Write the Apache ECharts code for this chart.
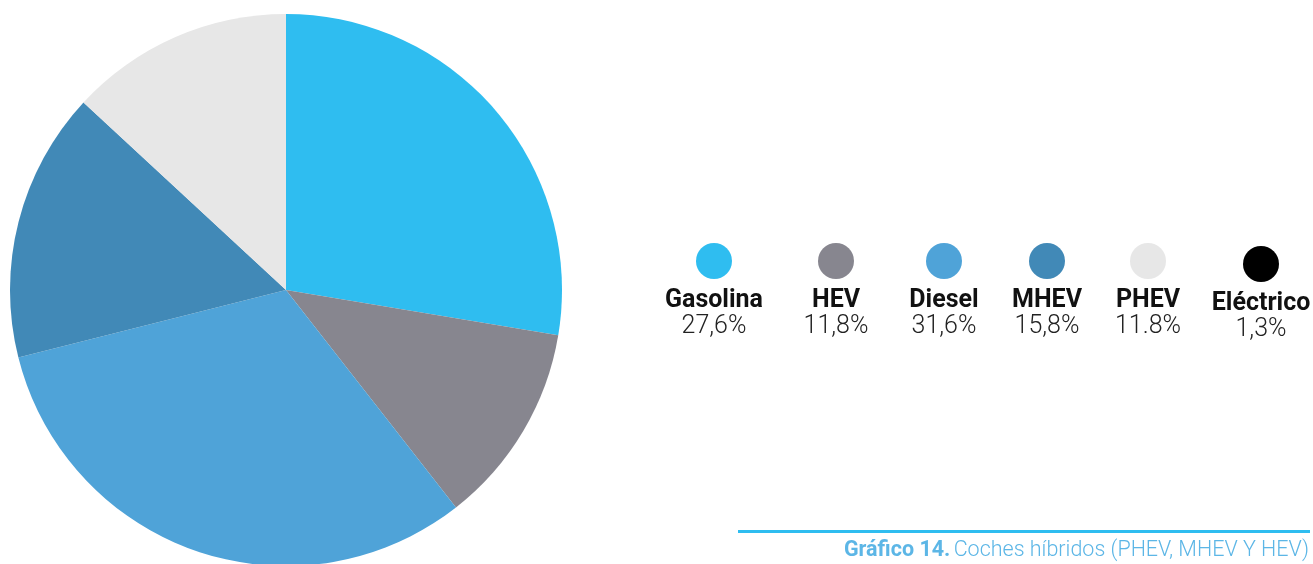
<!DOCTYPE html>
<html lang="es">
<head>
    <meta charset="utf-8">
    <title>Gráfico 14</title>
    <script src="https://cdn.jsdelivr.net/npm/echarts@6/dist/echarts.min.js"></script>
    <style>
        html, body { margin: 0; padding: 0; background: #fff; }
        #chart { width: 1313px; height: 564px; }
    </style>
</head>
<body>
    <div id="chart"></div>
    <script>
        // slices as they appear in the pie (clockwise from 12 o'clock)
        const sliceNames = ['Gasolina', 'HEV', 'Diesel', 'MHEV', 'PHEV'];
        const sliceValues = [27.6, 11.8, 31.6, 15.8, 13.1];
        const sliceColors = ['#2fbdf0', '#87868f', '#4fa3d8', '#4189b7', '#e7e7e7'];

        // legend on the right
        const legendNames = ['Gasolina', 'HEV', 'Diesel', 'MHEV', 'PHEV', 'Eléctrico'];
        const legendLabels = ['27,6%', '11,8%', '31,6%', '15,8%', '11.8%', '1,3%'];
        const legendColors = ['#2fbdf0', '#87868f', '#4fa3d8', '#4189b7', '#e7e7e7', '#000000'];
        const legendX = [714, 836, 944, 1047, 1148, 1261];
        const legendDy = [0, 0, 0, 0, 0, 3];

        const chart = echarts.init(document.getElementById('chart'));

        const graphics = [];
        legendNames.forEach(function (name, i) {
            graphics.push({
                type: 'circle',
                shape: { cx: legendX[i], cy: 261 + legendDy[i], r: 18 },
                style: { fill: legendColors[i] }
            });
            graphics.push({
                type: 'text',
                x: legendX[i],
                y: 301 + legendDy[i],
                style: {
                    text: name,
                    fontFamily: 'Roboto',
                    fontWeight: 'bold',
                    fontSize: 25,
                    fill: '#111',
                    align: 'center',
                    verticalAlign: 'middle'
                }
            });
            graphics.push({
                type: 'text',
                x: legendX[i],
                y: 327 + legendDy[i],
                style: {
                    text: legendLabels[i],
                    fontFamily: 'Roboto',
                    fontWeight: 300,
                    fontSize: 25,
                    fill: '#222',
                    align: 'center',
                    verticalAlign: 'middle'
                }
            });
        });

        // caption rule + text
        graphics.push({
            type: 'rect',
            shape: { x: 738, y: 530, width: 572, height: 3 },
            style: { fill: '#2fbdf0' }
        });
        graphics.push({
            type: 'text',
            x: 1309,
            y: 551,
            style: {
                text: '{b|Gráfico 14.} {n|Coches híbridos (PHEV, MHEV Y HEV)}',
                align: 'right',
                verticalAlign: 'middle',
                rich: {
                    b: { fontFamily: 'Roboto', fontWeight: 'bold', fontSize: 21.5, fill: '#5cb6e6' },
                    n: { fontFamily: 'Roboto', fontWeight: 300, fontSize: 21.5, fill: '#5cb6e6' }
                }
            }
        });

        const option = {
            animation: false,
            backgroundColor: '#fff',
            series: [{
                type: 'pie',
                center: [286, 290],
                radius: [0, 276],
                startAngle: 90,
                clockwise: true,
                label: { show: false },
                labelLine: { show: false },
                emphasis: { disabled: true },
                data: sliceNames.map(function (n, i) {
                    return { name: n, value: sliceValues[i], itemStyle: { color: sliceColors[i] } };
                })
            }],
            graphic: graphics
        };

        chart.setOption(option);
    </script>
</body>
</html>
